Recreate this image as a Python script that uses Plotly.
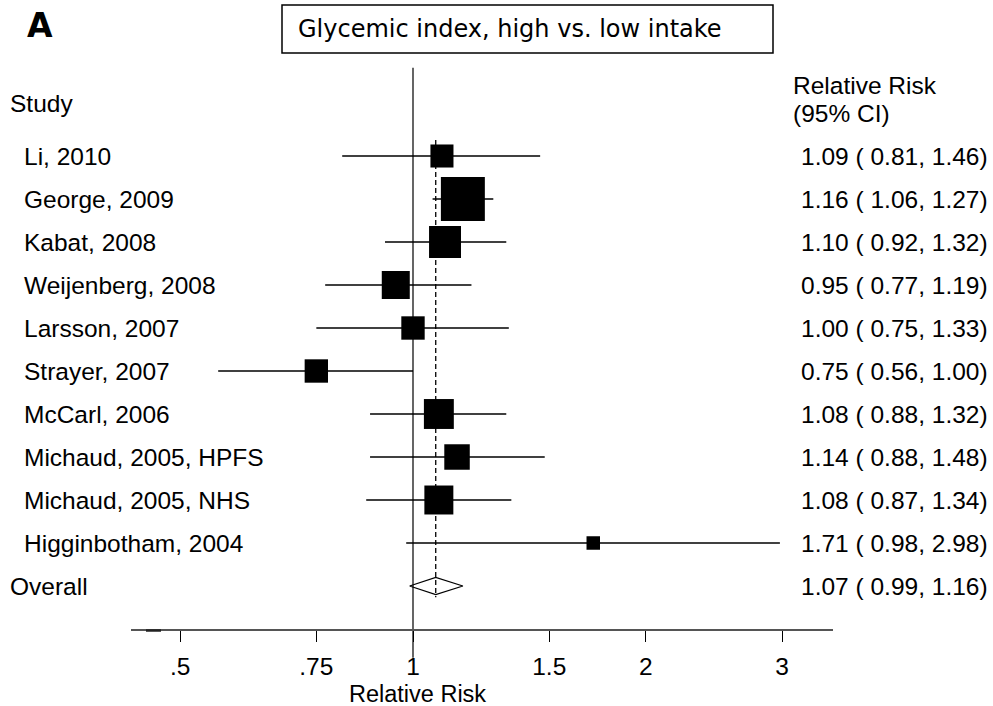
import math
import plotly.graph_objects as go

# ---- data -------------------------------------------------------------
studies = ["Li, 2010", "George, 2009", "Kabat, 2008", "Weijenberg, 2008",
           "Larsson, 2007", "Strayer, 2007", "McCarl, 2006",
           "Michaud, 2005, HPFS", "Michaud, 2005, NHS", "Higginbotham, 2004"]
rr = [1.09, 1.16, 1.10, 0.95, 1.00, 0.75, 1.08, 1.14, 1.08, 1.71]
ci_low = [0.81, 1.06, 0.92, 0.77, 0.75, 0.56, 0.88, 0.88, 0.87, 0.98]
ci_high = [1.46, 1.27, 1.32, 1.19, 1.33, 1.00, 1.32, 1.48, 1.34, 2.98]
weights = [6.7, 24.4, 12.9, 9.9, 6.9, 6.9, 11.3, 8.2, 10.6, 2.3]  # percent

overall_rr = 1.07
overall_low = 0.99
overall_high = 1.16

tick_vals = [0.5, 0.75, 1, 1.5, 2, 3]
tick_text = [".5", ".75", "1", "1.5", "2", "3"]

W, H = 993, 706
FONT = "Liberation Sans, Arial, sans-serif"
FS = 24.5

rows = list(range(1, len(studies) + 1))
overall_row = len(studies) + 1

fig = go.Figure()

# confidence-interval whiskers
xs, ys = [], []
for r, lo, hi in zip(rows, ci_low, ci_high):
    xs += [lo, hi, None]
    ys += [r, r, None]
fig.add_trace(go.Scatter(x=xs, y=ys, mode="lines",
                         line=dict(color="black", width=1.5),
                         hoverinfo="skip", showlegend=False))

# weighted point estimates (square area proportional to weight)
fig.add_trace(go.Scatter(
    x=rr, y=rows, mode="markers",
    marker=dict(symbol="square", color="black", opacity=1,
                size=[8.9 * math.sqrt(w) for w in weights],
                line=dict(width=0)),
    showlegend=False, cliponaxis=False))

# pooled estimate diamond
dh = 0.2
fig.add_trace(go.Scatter(
    x=[overall_low, overall_rr, overall_high, overall_rr, overall_low],
    y=[overall_row, overall_row - dh, overall_row, overall_row + dh, overall_row],
    mode="lines", line=dict(color="black", width=1.3),
    hoverinfo="skip", showlegend=False))

shapes = [
    # null line at RR = 1
    dict(type="line", xref="x", yref="y", x0=1, x1=1, y0=-1.05, y1=12.67,
         line=dict(color="#555555", width=1.8), layer="below"),
    # pooled estimate reference line
    dict(type="line", xref="x", yref="y", x0=overall_rr, x1=overall_rr,
         y0=0.63, y1=11.26, line=dict(color="black", width=1.3, dash="5px,3px"),
         layer="below"),
    # heading frame
    dict(type="rect", xref="paper", yref="paper",
         x0=282 / W, x1=773 / W, y0=1 - 53 / H, y1=1 - 5 / H,
         line=dict(color="black", width=1.5)),
    # short mark at the left end of the axis
    dict(type="line", xref="paper", yref="paper",
         x0=146 / W, x1=161 / W, y0=1 - 630.5 / H, y1=1 - 630.5 / H,
         line=dict(color="#222222", width=2.5)),
]

ann = []
ann.append(dict(text="<b>A</b>", x=25 / W, y=1 - 26 / H, xref="paper", yref="paper",
                xanchor="left", yanchor="middle", showarrow=False,
                font=dict(family="DejaVu Sans, Liberation Sans, sans-serif",
                          size=33, color="black")))
ann.append(dict(text="Glycemic index, high vs. low intake", x=296 / W, y=1 - 29 / H,
                xref="paper", yref="paper", xanchor="left", yanchor="middle",
                showarrow=False,
                font=dict(family="DejaVu Sans, Verdana, sans-serif", size=24, color="black")))
ann.append(dict(text="Study", x=8 / W, y=-0.23, xref="paper", yref="y",
                xanchor="left", yanchor="middle", showarrow=False,
                font=dict(family=FONT, size=FS, color="black")))
ann.append(dict(text="Relative Risk", x=791 / W, y=-0.63, xref="paper", yref="y",
                xanchor="left", yanchor="middle", showarrow=False,
                font=dict(family=FONT, size=FS, color="black")))
ann.append(dict(text="(95% CI)", x=791 / W, y=0.0, xref="paper", yref="y",
                xanchor="left", yanchor="middle", showarrow=False,
                font=dict(family=FONT, size=FS, color="black")))

for r, name, est, lo, hi in zip(rows, studies, rr, ci_low, ci_high):
    ann.append(dict(text=name, x=22 / W, y=r, xref="paper", yref="y",
                    xanchor="left", yanchor="middle", showarrow=False,
                    font=dict(family=FONT, size=FS, color="black")))
    ann.append(dict(text=f"{est:.2f} ( {lo:.2f}, {hi:.2f})", x=799 / W, y=r,
                    xref="paper", yref="y", xanchor="left", yanchor="middle",
                    showarrow=False, font=dict(family=FONT, size=FS, color="black")))

ann.append(dict(text="Overall", x=8 / W, y=overall_row, xref="paper", yref="y",
                xanchor="left", yanchor="middle", showarrow=False,
                font=dict(family=FONT, size=FS, color="black")))
ann.append(dict(text=f"{overall_rr:.2f} ( {overall_low:.2f}, {overall_high:.2f})",
                x=799 / W, y=overall_row, xref="paper", yref="y",
                xanchor="left", yanchor="middle", showarrow=False,
                font=dict(family=FONT, size=FS, color="black")))
ann.append(dict(text="Relative Risk", x=417 / W, y=1 - 694 / H, xref="paper",
                yref="paper", xanchor="center", yanchor="middle", showarrow=False,
                font=dict(family=FONT, size=23.5, color="black")))

# axis geometry: 1 on the log scale sits at x=413px, 336 px per ln unit
px_per_dec = 336 * math.log(10)
x_left, x_right, x_one = 131, 833, 413
xr = [(x_left - x_one) / px_per_dec, (x_right - x_one) / px_per_dec]

fig.update_layout(
    width=W, height=H,
    margin=dict(l=0, r=0, t=0, b=0),
    paper_bgcolor="white", plot_bgcolor="white",
    showlegend=False,
    shapes=shapes, annotations=ann,
    xaxis=dict(type="log", range=xr, domain=[x_left / W, x_right / W],
               anchor="free", position=1 - 630 / H,
               showline=True, linecolor="#555555", linewidth=1.8,
               ticks="outside", ticklen=11, tickwidth=1.3, tickcolor="black",
               ticklabelstandoff=4,
               tickvals=tick_vals, ticktext=tick_text,
               tickfont=dict(family=FONT, size=FS, color="black"),
               showgrid=False, zeroline=False, fixedrange=True),
    yaxis=dict(range=[(H - 113) / 43, -113 / 43], domain=[0, 1],
               visible=False, showgrid=False, zeroline=False, fixedrange=True),
)

fig.write_html("out.html")
